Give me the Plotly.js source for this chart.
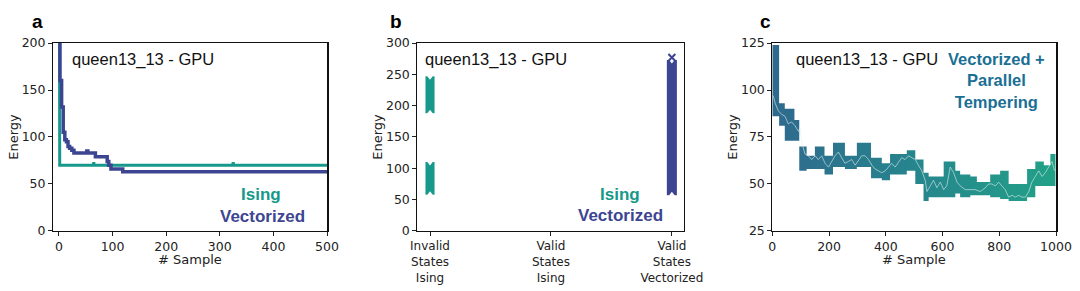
<!DOCTYPE html>
<html>
<head>
<meta charset="utf-8">
<script src="https://cdn.plot.ly/plotly-3.0.1.min.js"></script>
<style>html,body{margin:0;padding:0;background:#fff;}#chart{width:1080px;height:291px;}</style>
</head>
<body>
<div id="chart"></div>
<script>
// ---------- Panel a : best energy vs sample ----------
const aIsingX = [1, 1.5, 64, 65, 66, 324, 325, 326, 500];
const aIsingY = [215, 70, 70, 73, 70, 70, 73, 70, 70];
const aVecX = [0, 2, 5, 8, 11, 14, 17, 20, 24, 28, 50, 52, 54, 66, 68, 88, 90, 93, 97, 116, 119, 500];
const aVecY = [215, 160, 132, 105, 97, 95, 90, 88, 86, 83, 83, 85, 83, 83, 79, 79, 74, 70, 66, 66, 63, 63];

// ---------- Panel b : energy ranges per state group ----------
const bCategories = [0, 1, 2];
const bTickLabels = ["Invalid<br>States<br>Ising", "Valid<br>States<br>Ising", "Valid<br>States<br>Vectorized"];
const bIsingPos = [0, 0];
const bIsingLow = [188, 58];
const bIsingHigh = [247, 110];
const bVecPos = [2];
const bVecLow = [57];
const bVecHigh = [273];
const bVecMax = [277];

// ---------- Panel c : vectorized + parallel tempering ----------
const cBandX = [0, 24, 44, 78, 95, 121, 150, 184, 214, 256, 298, 348, 386, 415, 474, 504, 533, 551, 604, 645, 662, 698, 721, 768, 803, 833, 898, 927, 957, 980, 998];
const cBandHigh = [124, 93, 90, 84, 70, 65, 70, 65, 72, 65, 72, 64, 61, 66, 68, 63, 56, 54, 62, 57, 55, 54, 51, 55, 57, 50, 58, 62, 60, 66, 66];
const cBandLow = [86, 81, 73, 73, 57, 58, 58, 55, 59, 58, 59, 53, 52, 55, 57, 50, 41, 43, 43, 45, 43, 44, 44, 43, 42, 41, 43, 49, 49, 49, 49];
const cLineX = [3,10,21,33,45,56,68,80,92,98,104,115,127,139,151,162,174,186,198,209,221,233,245,256,268,280,292,304,315,327,339,351,362,374,386,398,409,421,433,445,456,468,480,492,504,515,527,539,545,557,568,580,592,604,615,627,639,651,662,680,698,715,733,751,762,774,786,798,809,821,833,845,857,868,880,892,904,915,927,939,951,962,974,986,995];
const cLineY = [97,93,89,87,86,82,83,81,78,80,72,66,65,63,65,63,65,61,59,62,65,67,64,61,62,63,60,63,65,65,63,60,58,57,56,57,59,61,59,62,64,63,65,64,63,60,57,52,46,49,52,48,51,47,49,59,56,51,49,47,47,47,46,48,50,50,49,51,49,47,43,44,43,44,43,43,46,51,54,57,54,56,59,62,57];

const TEAL = '#16998a';
const PURPLE = '#3c4592';
const FONT = 'Liberation Sans, Arial, sans-serif';
const AXFONT = 'DejaVu Sans, sans-serif';

const traces = [
  {x: aIsingX, y: aIsingY, xaxis: 'x', yaxis: 'y', mode: 'lines', line: {color: TEAL, width: 3}, showlegend: false, hoverinfo: 'skip'},
  {x: aVecX, y: aVecY, xaxis: 'x', yaxis: 'y', mode: 'lines', line: {color: PURPLE, width: 3.5, shape: 'hv'}, showlegend: false, hoverinfo: 'skip'},

  {type: 'bar', x: bIsingPos, base: bIsingLow, y: bIsingHigh.map((h, i) => h - bIsingLow[i]), width: 0.075, xaxis: 'x2', yaxis: 'y2', marker: {color: TEAL, line: {width: 0}}, showlegend: false, hoverinfo: 'skip'},
  {type: 'bar', x: bVecPos, base: bVecLow, y: bVecHigh.map((h, i) => h - bVecLow[i]), width: 0.083, xaxis: 'x2', yaxis: 'y2', marker: {color: PURPLE, line: {width: 0}}, showlegend: false, hoverinfo: 'skip'},
  {x: bIsingPos.concat(bVecPos), y: bIsingHigh.concat(bVecHigh), xaxis: 'x2', yaxis: 'y2', mode: 'markers', marker: {symbol: 'triangle-down', size: 7, color: '#fff', line: {width: 0}}, showlegend: false, hoverinfo: 'skip'},
  {x: bIsingPos.concat(bVecPos), y: bIsingLow.concat(bVecLow), xaxis: 'x2', yaxis: 'y2', mode: 'markers', marker: {symbol: 'triangle-up', size: 7, color: '#fff', line: {width: 0}}, showlegend: false, hoverinfo: 'skip'},
  {x: bVecPos, y: bVecMax, xaxis: 'x2', yaxis: 'y2', mode: 'markers', marker: {symbol: 'x-thin', size: 7, color: PURPLE, line: {width: 2, color: PURPLE}}, showlegend: false, hoverinfo: 'skip'},

  {x: cBandX, y: cBandHigh, xaxis: 'x3', yaxis: 'y3', mode: 'lines', line: {width: 0, shape: 'hv', color: 'rgba(0,0,0,0)'}, showlegend: false, hoverinfo: 'skip'},
  {x: cBandX, y: cBandLow, xaxis: 'x3', yaxis: 'y3', mode: 'lines', line: {width: 0, shape: 'hv', color: 'rgba(0,0,0,0)'}, fill: 'tonexty',
   fillgradient: {type: 'horizontal', colorscale: [[0, '#2f698e'], [0.5, '#26858d'], [1, '#22a187']]}, showlegend: false, hoverinfo: 'skip'},
  {x: cLineX, y: cLineY, xaxis: 'x3', yaxis: 'y3', mode: 'lines', line: {width: 1, color: 'rgba(225,240,240,0.6)'}, showlegend: false, hoverinfo: 'skip'}
];

function xax(domain, range, extra) {
  return Object.assign({
    domain: domain, range: range, showgrid: false, zeroline: false, showline: true, mirror: true,
    linecolor: '#111', linewidth: 1.5, ticks: 'outside', ticklen: 3.5, tickwidth: 1, tickcolor: '#222',
    tickfont: {family: AXFONT, size: 12.5, color: '#222'}, fixedrange: true
  }, extra);
}
const yDom = [0.2062, 0.8522];
const titleFont = {family: AXFONT, size: 13, color: '#222'};

function ann(text, px, py, size, color, xanchor, family) {
  return {text: text, x: px / 1080, y: 1 - py / 291, xref: 'paper', yref: 'paper', showarrow: false,
          xanchor: xanchor || 'center', yanchor: 'middle', align: 'center', font: {family: family || FONT, size: size, color: color}};
}

const layout = {
  width: 1080, height: 291, margin: {l: 0, r: 0, t: 0, b: 0},
  paper_bgcolor: '#fff', plot_bgcolor: '#fff', barmode: 'overlay',
  font: {family: FONT, color: '#222'},
  xaxis: xax([0.0491, 0.3028], [-11, 500], {anchor: 'y', tickvals: [0, 100, 200, 300, 400, 500]}),
  yaxis: xax(yDom, [0, 200], {anchor: 'x', tickvals: [0, 50, 100, 150, 200], title: {text: 'Energy', font: titleFont, standoff: 0}}),
  xaxis2: xax([0.3864, 0.6333], [-0.105, 2.1], {anchor: 'y2', tickvals: bCategories, ticktext: bTickLabels, tickfont: {family: AXFONT, size: 12, color: '#222'}}),
  yaxis2: xax(yDom, [0, 300], {anchor: 'x2', tickvals: [0, 50, 100, 150, 200, 250, 300], title: {text: 'Energy', font: titleFont, standoff: 0}}),
  xaxis3: xax([0.7151, 0.9778], [0, 1000], {anchor: 'y3', tickvals: [0, 200, 400, 600, 800, 1000]}),
  yaxis3: xax(yDom, [25, 125], {anchor: 'x3', tickvals: [25, 50, 75, 100, 125], title: {text: 'Energy', font: titleFont, standoff: 0}}),
  annotations: [
    ann('<b>a</b>', 37, 22, 19, '#000'),
    ann('<b>b</b>', 396, 22, 19, '#000'),
    ann('<b>c</b>', 765, 22, 19, '#000'),
    ann('# Sample', 190, 259.5, 13, '#222', 'center', AXFONT),
    ann('# Sample', 914, 259.5, 13, '#222', 'center', AXFONT),
    ann('queen13_13 - GPU', 70, 60, 16.5, '#111', 'left'),
    ann('queen13_13 - GPU', 423, 60, 16.5, '#111', 'left'),
    ann('queen13_13 - GPU', 794, 60, 16.5, '#111', 'left'),
    ann('<b>Ising</b>', 261, 195, 17, TEAL),
    ann('<b>Vectorized</b>', 262, 216, 17, PURPLE),
    ann('<b>Ising</b>', 620, 195, 17, TEAL),
    ann('<b>Vectorized</b>', 620, 215, 17, PURPLE),
    ann('<b>Vectorized +</b><br><b>Parallel</b><br><b>Tempering</b>', 996.5, 80.5, 16.5, '#1b6f94')
  ]
};

Plotly.newPlot('chart', traces, layout, {staticPlot: true, displayModeBar: false});
</script>
</body>
</html>
